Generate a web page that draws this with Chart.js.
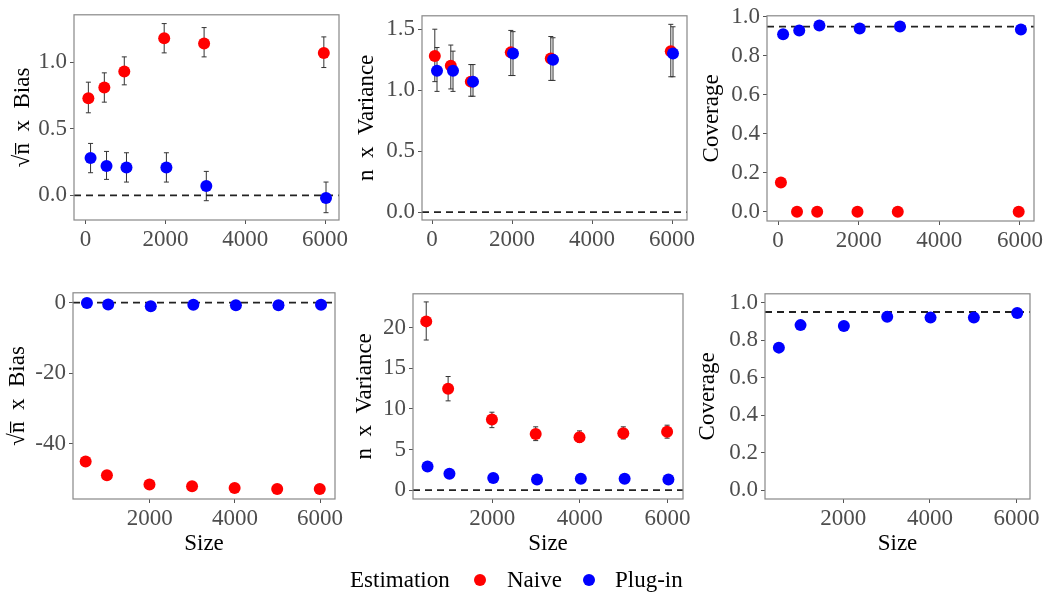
<!DOCTYPE html>
<html>
<head>
<meta charset="utf-8">
<script src="https://cdn.jsdelivr.net/npm/chart.js@4"></script>
<style>
  body { margin: 0; background: #fff; width: 1050px; height: 598px; position: relative; overflow: hidden; font-family: 'Liberation Serif', 'Times New Roman', 'DejaVu Serif', serif; }
  canvas { position: absolute; }
  .leg { position: absolute; top: 566px; font-size: 23px; line-height: 28px; color: #000; white-space: nowrap; }
  .dot { position: absolute; top: 574px; width: 12px; height: 12px; border-radius: 50%; }
</style>
</head>
<body>
<canvas id="p1"></canvas>
<canvas id="p2"></canvas>
<canvas id="p3"></canvas>
<canvas id="p4"></canvas>
<canvas id="p5"></canvas>
<canvas id="p6"></canvas>

<span class="leg" style="left:350px">Estimation</span>
<span class="dot" style="left:474px; background:#ff0000"></span>
<span class="leg" style="left:507px">Naive</span>
<span class="dot" style="left:583px; background:#0000ff"></span>
<span class="leg" style="left:615px">Plug-in</span>

<script>
// sample sizes
const sizesTop = [100, 500, 1000, 2000, 3000, 6000];
const sizesBottom = [500, 1000, 2000, 3000, 4000, 5000, 6000];
const xTicksTop = [0, 2000, 4000, 6000];
const xTicksBottom = [2000, 4000, 6000];

// top row: bias
const biasNaive = [0.73, 0.81, 0.93, 1.18, 1.14, 1.07];
const biasNaiveLo = [0.62, 0.70, 0.83, 1.07, 1.04, 0.96];
const biasNaiveHi = [0.85, 0.92, 1.04, 1.29, 1.26, 1.19];
const biasPlugin = [0.28, 0.22, 0.21, 0.21, 0.07, -0.02];
const biasPluginLo = [0.17, 0.12, 0.10, 0.10, -0.04, -0.13];
const biasPluginHi = [0.39, 0.33, 0.32, 0.32, 0.18, 0.10];
const biasTicks = [0, 0.5, 1.0];

// top row: variance
const varNaive = [1.28, 1.20, 1.07, 1.31, 1.26, 1.32];
const varNaiveLo = [1.07, 1.01, 0.95, 1.12, 1.08, 1.11];
const varNaiveHi = [1.50, 1.37, 1.21, 1.49, 1.44, 1.54];
const varPlugin = [1.16, 1.16, 1.07, 1.30, 1.25, 1.30];
const varPluginLo = [0.99, 0.99, 0.95, 1.12, 1.08, 1.11];
const varPluginHi = [1.35, 1.32, 1.21, 1.48, 1.43, 1.52];
const varTicks = [0, 0.5, 1.0, 1.5];

// top row: coverage
const covNaive = [0.15, 0, 0, 0, 0, 0];
const covPlugin = [0.91, 0.93, 0.955, 0.94, 0.95, 0.935];
const covTicks = [0, 0.2, 0.4, 0.6, 0.8, 1.0];

// bottom row
const biasNaive2 = [-45.0, -48.9, -51.5, -52.0, -52.5, -52.8, -52.8];
const biasPlugin2 = [-0.1, -0.5, -1.0, -0.6, -0.7, -0.7, -0.6];
const bias2Ticks = [-40, -20, 0];

const varNaive2 = [20.8, 12.5, 8.7, 6.9, 6.5, 7.0, 7.2];
const varNaive2Lo = [18.5, 11.0, 7.7, 6.1, 5.9, 6.3, 6.4];
const varNaive2Hi = [23.2, 14.0, 9.6, 7.8, 7.3, 7.8, 8.0];
const varPlugin2 = [2.9, 2.0, 1.5, 1.3, 1.4, 1.4, 1.3];
const var2Ticks = [0, 5, 10, 15, 20];

const covPlugin2 = [0.76, 0.88, 0.875, 0.925, 0.92, 0.92, 0.945];

const nominal = 0.95;

const RED = '#ff0000', BLUE = '#0000ff';
const FONT = "'Liberation Serif', 'Times New Roman', 'DejaVu Serif', serif";

// error bars under the points, grey frame over everything
const extras = {
  id: 'extras',
  beforeDatasetsDraw(chart) {
    const { ctx, scales: { x, y } } = chart;
    ctx.save();
    ctx.strokeStyle = '#333';
    ctx.lineWidth = 1;
    chart.data.datasets.forEach(ds => {
      if (!ds.lo) return;
      ds.data.forEach((p, i) => {
        const px = x.getPixelForValue(p.x);
        const t = y.getPixelForValue(ds.hi[i]);
        const b = y.getPixelForValue(ds.lo[i]);
        ctx.beginPath();
        ctx.moveTo(px, t); ctx.lineTo(px, b);
        ctx.moveTo(px - 2.5, t); ctx.lineTo(px + 2.5, t);
        ctx.moveTo(px - 2.5, b); ctx.lineTo(px + 2.5, b);
        ctx.stroke();
      });
    });
    ctx.restore();
  },
  afterDraw(chart) {
    const { ctx, chartArea: a } = chart;
    ctx.save();
    ctx.strokeStyle = '#888';
    ctx.lineWidth = 1.2;
    ctx.strokeRect(a.left, a.top, a.right - a.left, a.bottom - a.top);
    ctx.restore();
  }
};

function points(sizes, vals, shift) {
  return sizes.map((s, i) => ({ x: s + shift, y: vals[i] }));
}

function series(label, color, sizes, vals, shift, lo, hi) {
  return {
    label, data: points(sizes, vals, shift), lo, hi,
    backgroundColor: color, borderColor: color,
    pointRadius: 6, pointHoverRadius: 6, pointBorderWidth: 0,
    order: color === BLUE ? 1 : 2
  };
}

function panel(id, box, o) {
  const yw = 74, pt = 14, pr = 14;
  const cv = document.getElementById(id);
  cv.width = box.r - box.l + yw + pr;
  cv.height = box.b - box.t + pt + o.bottomH;
  cv.style.left = (box.l - yw) + 'px';
  cv.style.top = (box.t - pt) + 'px';

  const refLine = {
    type: 'line', label: 'ref',
    data: [{ x: o.xMin, y: o.ref }, { x: o.xMax, y: o.ref }],
    borderColor: '#222', borderWidth: 1.8, borderDash: [7, 5],
    pointRadius: 0, order: 3
  };

  new Chart(cv.getContext('2d'), {
    type: 'scatter',
    data: { datasets: [refLine, ...o.datasets] },
    options: {
      responsive: false,
      animation: false,
      layout: { padding: { top: pt, right: pr, left: 0, bottom: 0 } },
      plugins: { legend: { display: false }, tooltip: { enabled: false } },
      scales: {
        x: {
          type: 'linear', min: o.xMin, max: o.xMax,
          afterFit: s => { s.height = o.bottomH; },
          afterBuildTicks: s => { s.ticks = o.xTicks.map(v => ({ value: v })); },
          ticks: { color: '#4d4d4d', font: { family: FONT, size: 23 }, padding: 2, callback: v => String(v) },
          grid: { drawOnChartArea: false, tickLength: 4, color: '#555' },
          border: { display: false },
          title: { display: !!o.xTitle, text: o.xTitle || '', color: '#000', font: { family: FONT, size: 23 }, padding: { top: 0, bottom: 3 } }
        },
        y: {
          min: o.yMin, max: o.yMax,
          afterFit: s => { s.width = yw; },
          afterBuildTicks: s => { s.ticks = o.yTicks.map(v => ({ value: v })); },
          ticks: { color: '#4d4d4d', font: { family: FONT, size: 23 }, padding: 3, callback: o.yFmt },
          grid: { drawOnChartArea: false, tickLength: 4, color: '#555' },
          border: { display: false },
          title: { display: true, text: o.yTitle, color: '#000', font: { family: FONT, size: 23 }, padding: { top: yw - o.titleGap - 13.8, bottom: 0 } }
        }
      }
    },
    plugins: [extras]
  });
}

const fmt1 = v => v.toFixed(1);
const fmt0 = v => String(v);
const biasTitle = '\u221An\u0305  x  Bias';
const varTitle = 'n  x  Variance';

panel('p1', { l: 74, t: 12, r: 339, b: 220 }, {
  bottomH: 40, xMin: -290, xMax: 6350, xTicks: xTicksTop,
  yMin: -0.185, yMax: 1.356, yTicks: biasTicks, yFmt: fmt1, ref: 0,
  yTitle: biasTitle, titleGap: 51,
  datasets: [
    series('Naive', RED, sizesTop, biasNaive, -30, biasNaiveLo, biasNaiveHi),
    series('Plug-in', BLUE, sizesTop, biasPlugin, 25, biasPluginLo, biasPluginHi)
  ]
});

panel('p2', { l: 422, t: 13, r: 687, b: 220 }, {
  bottomH: 40, xMin: -250, xMax: 6375, xTicks: xTicksTop,
  yMin: -0.065, yMax: 1.61, yTicks: varTicks, yFmt: fmt1, ref: 0,
  yTitle: varTitle, titleGap: 55,
  datasets: [
    series('Naive', RED, sizesTop, varNaive, -30, varNaiveLo, varNaiveHi),
    series('Plug-in', BLUE, sizesTop, varPlugin, 25, varPluginLo, varPluginHi)
  ]
});

panel('p3', { l: 767, t: 13, r: 1034, b: 221 }, {
  bottomH: 40, xMin: -275, xMax: 6350, xTicks: xTicksTop,
  yMin: -0.047, yMax: 1.005, yTicks: covTicks, yFmt: fmt1, ref: nominal,
  yTitle: 'Coverage', titleGap: 55,
  datasets: [
    series('Naive', RED, sizesTop, covNaive, -30),
    series('Plug-in', BLUE, sizesTop, covPlugin, 25)
  ]
});

panel('p4', { l: 73, t: 290, r: 335, b: 499 }, {
  bottomH: 62, xMin: 195, xMax: 6350, xTicks: xTicksBottom, xTitle: 'Size',
  yMin: -55.6, yMax: 2.8, yTicks: bias2Ticks, yFmt: fmt0, ref: 0,
  yTitle: biasTitle, titleGap: 55,
  datasets: [
    series('Naive', RED, sizesBottom, biasNaive2, -8),
    series('Plug-in', BLUE, sizesBottom, biasPlugin2, 22)
  ]
});

panel('p5', { l: 413, t: 291, r: 683, b: 499 }, {
  bottomH: 62, xMin: 190, xMax: 6355, xTicks: xTicksBottom, xTitle: 'Size',
  yMin: -1.1, yMax: 24.2, yTicks: var2Ticks, yFmt: fmt0, ref: 0,
  yTitle: varTitle, titleGap: 48,
  datasets: [
    series('Naive', RED, sizesBottom, varNaive2, -8, varNaive2Lo, varNaive2Hi),
    series('Plug-in', BLUE, sizesBottom, varPlugin2, 22)
  ]
});

panel('p6', { l: 765, t: 291, r: 1030, b: 499 }, {
  bottomH: 62, xMin: 195, xMax: 6310, xTicks: xTicksBottom, xTitle: 'Size',
  yMin: -0.047, yMax: 1.047, yTicks: covTicks, yFmt: fmt1, ref: nominal,
  yTitle: 'Coverage', titleGap: 57,
  datasets: [
    series('Plug-in', BLUE, sizesBottom, covPlugin2, 15)
  ]
});
</script>
</body>
</html>
